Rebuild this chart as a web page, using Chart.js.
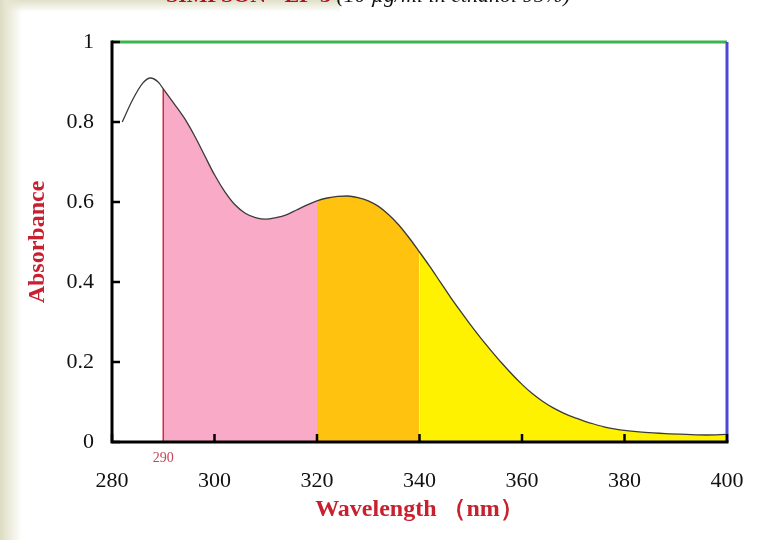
<!DOCTYPE html>
<html>
<head>
<meta charset="utf-8">
<script src="https://cdn.jsdelivr.net/npm/chart.js@4"></script>
<style>
   html, body {
      margin: 0;
      padding: 0;
      width: 763px;
      height: 540px;
      overflow: hidden;
      background:
         linear-gradient(to right, #dcdcc2 0px, #e6e6d2 6px, rgba(255,255,255,0) 22px),
         linear-gradient(to bottom, rgba(220,220,194,0.9) 0px, rgba(255,255,255,0) 12px) 0 0 / 340px 12px no-repeat,
         #ffffff;
   }
   #spectrum {
      position: absolute;
      left: 0;
      top: 0;
   }
</style>
</head>
<body>
<canvas id="spectrum" width="763" height="540"></canvas>
<script>
const wavelength = [
   282, 284, 286, 287.5, 289, 290, 292, 294, 296, 298,
   300, 302, 304, 306, 308, 310, 312, 314, 316, 318,
   320, 322, 324, 326, 328, 330, 332, 334, 336, 338,
   340, 342, 344, 346, 348, 350, 352, 354, 356, 358,
   360, 362, 364, 366, 368, 370, 372, 374, 376, 378,
   380, 384, 388, 392, 396, 400
];
const absorbance = [
   0.800, 0.855, 0.897, 0.910, 0.900, 0.883, 0.848, 0.812, 0.768, 0.718,
   0.668, 0.626, 0.593, 0.572, 0.561, 0.557, 0.561, 0.568, 0.580, 0.592,
   0.603, 0.610, 0.614, 0.615, 0.611, 0.603, 0.589, 0.568, 0.542, 0.510,
   0.475, 0.439, 0.401, 0.363, 0.327, 0.292, 0.259, 0.228, 0.198, 0.170,
   0.144, 0.121, 0.102, 0.086, 0.073, 0.062, 0.053, 0.045, 0.038, 0.033,
   0.029, 0.024, 0.021, 0.019, 0.0175, 0.019
];
const bandEdges = [290, 320, 340, 400];
const bandColors = ["#f9aac6", "#ffc20e", "#fff200"];
const markerWavelength = 290;
const xTicks = [280, 300, 320, 340, 360, 380, 400];
const yTicks = [0, 0.2, 0.4, 0.6, 0.8, 1];

const serif = "'Liberation Serif', 'Times New Roman', serif";
const titleRed = "#c8202f";

function pointsBetween(from, to) {
   return wavelength
      .map((x, i) => ({ x, y: absorbance[i] }))
      .filter((p) => p.x >= from && p.x <= to);
}

function bandDatasets() {
   return bandColors.map((color, i) => ({
      data: pointsBetween(bandEdges[i], bandEdges[i + 1]),
      borderWidth: 0,
      borderColor: "rgba(0,0,0,0)",
      backgroundColor: color,
      fill: "origin",
      pointRadius: 0,
      cubicInterpolationMode: "monotone",
      order: 3
   }));
}

const markerValue = absorbance[wavelength.indexOf(markerWavelength)];

const framePlugin = {
   id: "frame",
   afterDraw(chart) {
      const { ctx, chartArea: a, scales } = chart;
      const x = scales.x;
      const y = scales.y;
      ctx.save();
      ctx.lineCap = "butt";

      // top and right borders
      ctx.lineWidth = 3;
      ctx.strokeStyle = "#3cb54e";
      ctx.beginPath();
      ctx.moveTo(a.left, a.top);
      ctx.lineTo(a.right, a.top);
      ctx.stroke();
      ctx.strokeStyle = "#4a4ad0";
      ctx.beginPath();
      ctx.moveTo(a.right, a.top);
      ctx.lineTo(a.right, a.bottom);
      ctx.stroke();

      // left and bottom axes
      ctx.strokeStyle = "#000";
      ctx.beginPath();
      ctx.moveTo(a.left, a.top - 1.5);
      ctx.lineTo(a.left, a.bottom);
      ctx.lineTo(a.right + 1.5, a.bottom);
      ctx.stroke();

      // inward ticks
      ctx.lineWidth = 2.5;
      yTicks.forEach((v) => {
         const py = y.getPixelForValue(v);
         ctx.beginPath();
         ctx.moveTo(a.left, py);
         ctx.lineTo(a.left + 8, py);
         ctx.stroke();
      });
      xTicks.forEach((v) => {
         const px = x.getPixelForValue(v);
         ctx.beginPath();
         ctx.moveTo(px, a.bottom);
         ctx.lineTo(px, a.bottom - 8);
         ctx.stroke();
      });

      // small marker label
      ctx.fillStyle = "#c04858";
      ctx.font = "14px " + serif;
      ctx.textAlign = "center";
      ctx.textBaseline = "middle";
      ctx.fillText(String(markerWavelength), x.getPixelForValue(markerWavelength), a.bottom + 16);

      // partially cropped heading
      ctx.textBaseline = "alphabetic";
      ctx.textAlign = "left";
      ctx.font = "bold 22px " + serif;
      ctx.fillStyle = "#b01020";
      const head = "SIMPSON - EP-3 ";
      ctx.fillText(head, 166, 2);
      const w = ctx.measureText(head).width;
      ctx.font = "italic 22px " + serif;
      ctx.fillStyle = "#111";
      ctx.fillText("(10 \u00b5g/ml in ethanol 95%)", 166 + w, 2);
      ctx.restore();
   }
};

new Chart(document.getElementById("spectrum"), {
   type: "line",
   data: {
      datasets: [
         {
            data: pointsBetween(wavelength[0], wavelength[wavelength.length - 1]),
            borderColor: "#3a3a3a",
            borderWidth: 1.3,
            fill: false,
            pointRadius: 0,
            cubicInterpolationMode: "monotone",
            order: 0
         },
         {
            data: [
               { x: markerWavelength, y: 0 },
               { x: markerWavelength, y: markerValue }
            ],
            borderColor: "#d42a3c",
            borderWidth: 1.5,
            fill: false,
            pointRadius: 0,
            order: 1
         },
         ...bandDatasets()
      ]
   },
   options: {
      responsive: false,
      animation: false,
      layout: {
         padding: { left: 0, right: 36, top: 42, bottom: 0 }
      },
      plugins: {
         legend: { display: false },
         tooltip: { enabled: false }
      },
      scales: {
         x: {
            type: "linear",
            min: 280,
            max: 400,
            afterBuildTicks(axis) {
               axis.ticks = xTicks.map((value) => ({ value }));
            },
            afterFit(axis) {
               axis.height = 98;
               axis.paddingLeft = 0;
               axis.paddingRight = 0;
            },
            grid: { display: false, drawTicks: false },
            border: { display: false },
            ticks: {
               padding: 26,
               color: "#111",
               font: { family: serif, size: 22 },
               maxRotation: 0
            },
            title: {
               display: true,
               text: "Wavelength \uff08nm\uff09",
               color: titleRed,
               font: { family: serif, size: 24, weight: "bold" },
               padding: { top: 0, bottom: 16 }
            }
         },
         y: {
            min: 0,
            max: 1,
            afterBuildTicks(axis) {
               axis.ticks = yTicks.map((value) => ({ value }));
            },
            afterFit(axis) {
               axis.width = 112;
               axis.paddingTop = 0;
               axis.paddingBottom = 0;
            },
            grid: { display: false, drawTicks: false },
            border: { display: false },
            ticks: {
               padding: 18,
               color: "#111",
               font: { family: serif, size: 22 },
               callback(value) {
                  return String(value);
               }
            },
            title: {
               display: true,
               text: "Absorbance",
               color: titleRed,
               font: { family: serif, size: 24, weight: "bold" },
               padding: { top: 23, bottom: 0 }
            }
         }
      }
   },
   plugins: [framePlugin]
});
</script>
</body>
</html>
